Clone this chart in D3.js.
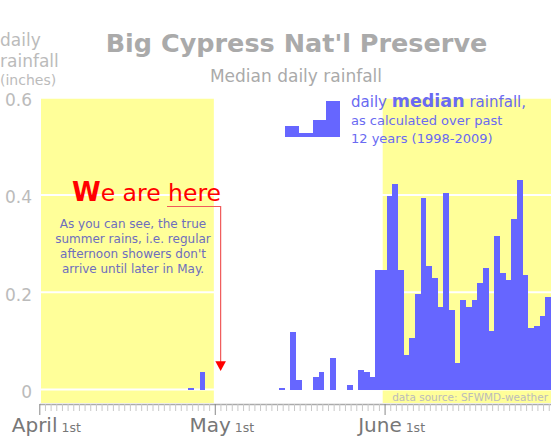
<!DOCTYPE html>
<html><head><meta charset="utf-8">
<script src="https://cdn.jsdelivr.net/npm/d3@7"></script>
<style>
body{margin:0;background:#fff}
svg{display:block;font-family:"DejaVu Sans",Verdana,sans-serif}
</style>
</head><body>
<svg id="chart" width="551" height="438"></svg>
<script>
// ---- data (daily median rainfall, inches; day 0 = April 1st) ----
const rainfall = [
  0,0,0,0,0,0,0,0,0,0,
  0,0,0,0,0,0,0,0,0,0,
  0,0,0,0,0,0,0.004,0,0.035,0,
  0,0,0,0,0,0,0,0,0,0,
  0,0,0.004,0,0.119,0.019,0,0,0.025,0.035,
  0,0.064,0,0,0.010,0,0.040,0.036,0.026,0.245,
  0.245,0.398,0.422,0.245,0.070,0.105,0.196,0.394,0.254,0.230,
  0.170,0.404,0.164,0.055,0.185,0.170,0.185,0.220,0.249,0.120,
  0.315,0.239,0.225,0.350,0.430,0.235,0.126,0.130,0.151,0.190
];
const days = d3.range(rainfall.length);
const yTicks = [0, 0.2, 0.4, 0.6];
const yTickLabels = ["0", "0.2", "0.4", "0.6"];
const monthTickDays = [0, 31, 61];
const monthLabels = ["April", "May", "June"];
const dayLabel = "1st";
const highlightBands = [[0, 30.5], [60.3, 90]];
const legendSteps = [0.31, 0.11, 0.47, 1];
const legendLines = ["as calculated over past", "12 years (1998-2009)"];
const noteLines = ["As you can see, the true", "summer rains, i.e. regular", "afternoon showers don't", "arrive until later in May."];
const hereDay = 31.7, hereValue = 0.038;

const svg = d3.select("#chart");
const x = d3.scaleLinear().domain([0, 90]).range([41, 551]);
const xt = d3.scaleLinear().domain([0, 90.4]).range([39.3, 551]);
const y = d3.scaleLinear().domain([0, 0.6]).range([389.5, 97.7]);
const axisY = 404;

// highlight bands
svg.append("g").selectAll("rect").data(highlightBands).join("rect")
  .attr("x", d => x(d[0])).attr("width", d => x(d[1]) - x(d[0]))
  .attr("y", y(0.6)).attr("height", axisY - 1 - y(0.6))
  .attr("fill", "#ffff99");

// gridlines
svg.append("g").selectAll("line").data(yTicks).join("line")
  .attr("x1", x(0)).attr("x2", x(90))
  .attr("y1", d => y(d)).attr("y2", d => y(d))
  .attr("stroke", "#fff").attr("stroke-width", 2);

// bars
svg.append("g").selectAll("rect").data(days.filter(i => rainfall[i] > 0)).join("rect")
  .attr("x", i => x(i)).attr("width", i => x(i + 1) - x(i))
  .attr("y", i => y(rainfall[i])).attr("height", i => y(0) - y(rainfall[i]))
  .attr("fill", "#6666ff").attr("shape-rendering", "crispEdges");

// y tick labels
svg.append("g").selectAll("text").data(yTicks).join("text")
  .attr("x", 32).attr("y", d => y(d) + 8.5)
  .attr("text-anchor", "end").attr("font-size", 17).attr("fill", "#bbbbbb")
  .text((d, i) => yTickLabels[i]);

// y axis title
const yt = svg.append("text").attr("fill", "#bbbbbb");
yt.append("tspan").attr("x", 0).attr("y", 45.5).attr("font-size", 17).text("daily");
yt.append("tspan").attr("x", 0).attr("y", 66.5).attr("font-size", 17).text("rainfall");
yt.append("tspan").attr("x", 0).attr("y", 85).attr("font-size", 14).text("(inches)");

// x axis
const ax = svg.append("g").attr("transform", `translate(0,${axisY})`)
  .call(d3.axisBottom(xt).tickValues(d3.range(0, 91)).tickSize(7).tickSizeOuter(0).tickFormat(""));
ax.select(".domain").attr("stroke", "#aaaaaa").attr("stroke-width", 1.5);
ax.selectAll(".tick line").attr("stroke", "#c8c8c8");
ax.selectAll(".tick").filter(d => monthTickDays.includes(d)).select("line")
  .attr("y2", 11).attr("stroke", "#888888");

const ml = svg.append("g").selectAll("text").data(monthTickDays).join("text")
  .attr("x", d => xt(d) + 7).attr("y", 432).attr("text-anchor", "middle").attr("fill", "#777777");
ml.append("tspan").attr("font-size", 20).text((d, i) => monthLabels[i]);
ml.append("tspan").attr("font-size", 12.5).text(" " + dayLabel);

// title
svg.append("text").attr("x", 296.5).attr("y", 52).attr("text-anchor", "middle")
  .attr("font-size", 25.5).attr("font-weight", "bold").attr("fill", "#aaaaaa")
  .text("Big Cypress Nat'l Preserve");
svg.append("text").attr("x", 296).attr("y", 82).attr("text-anchor", "middle")
  .attr("font-size", 17).attr("fill", "#aaaaaa").text("Median daily rainfall");

// legend icon
const ix = d3.scaleLinear().domain([0, legendSteps.length]).range([285, 340]);
const iy = d3.scaleLinear().domain([0, 1]).range([136.7, 101]);
svg.append("g").selectAll("rect").data(legendSteps).join("rect")
  .attr("x", (d, i) => ix(i)).attr("width", (d, i) => ix(i + 1) - ix(i) + 0.3)
  .attr("y", d => iy(d)).attr("height", d => iy(0) - iy(d))
  .attr("fill", "#6666ff").attr("shape-rendering", "crispEdges");

// legend text
const lt = svg.append("text").attr("x", 351).attr("y", 106.5).attr("fill", "#6a6af2");
lt.append("tspan").attr("font-size", 15).text("daily ");
lt.append("tspan").attr("font-size", 17.5).attr("font-weight", "bold").text("median");
lt.append("tspan").attr("font-size", 15).text(" rainfall,");
svg.append("g").selectAll("text").data(legendLines).join("text")
  .attr("x", 351).attr("y", (d, i) => 125 + i * 18.3)
  .attr("font-size", 13).attr("fill", "#6a6af2").text(d => d);

// annotation
const wt = svg.append("text").attr("x", 72).attr("y", 201).attr("fill", "#ff0000");
wt.append("tspan").attr("font-size", 26).attr("font-weight", "bold").text("W");
wt.append("tspan").attr("font-size", 23.5).text("e are here");
const ax0 = x(hereDay), tipY = y(hereValue);
svg.append("path")
  .attr("d", `M167,206.5H${ax0}V${tipY - 9}`)
  .attr("fill", "none").attr("stroke", "#f05a5a").attr("stroke-width", 1.2);
svg.append("path")
  .attr("d", `M${ax0 - 5.3},${tipY - 9.8}L${ax0 + 5.3},${tipY - 9.8}L${ax0},${tipY}Z`)
  .attr("fill", "#ff0000");
svg.append("g").selectAll("text").data(noteLines).join("text")
  .attr("x", 133).attr("y", (d, i) => 227.7 + i * 15)
  .attr("text-anchor", "middle").attr("font-size", 12).attr("fill", "#6e6ebe")
  .text(d => d);

// data source
svg.append("text").attr("x", 548).attr("y", 401).attr("text-anchor", "end")
  .attr("font-size", 10.5).attr("fill", "#bbbbbb").text("data source: SFWMD-weather");
</script>
</body></html>
